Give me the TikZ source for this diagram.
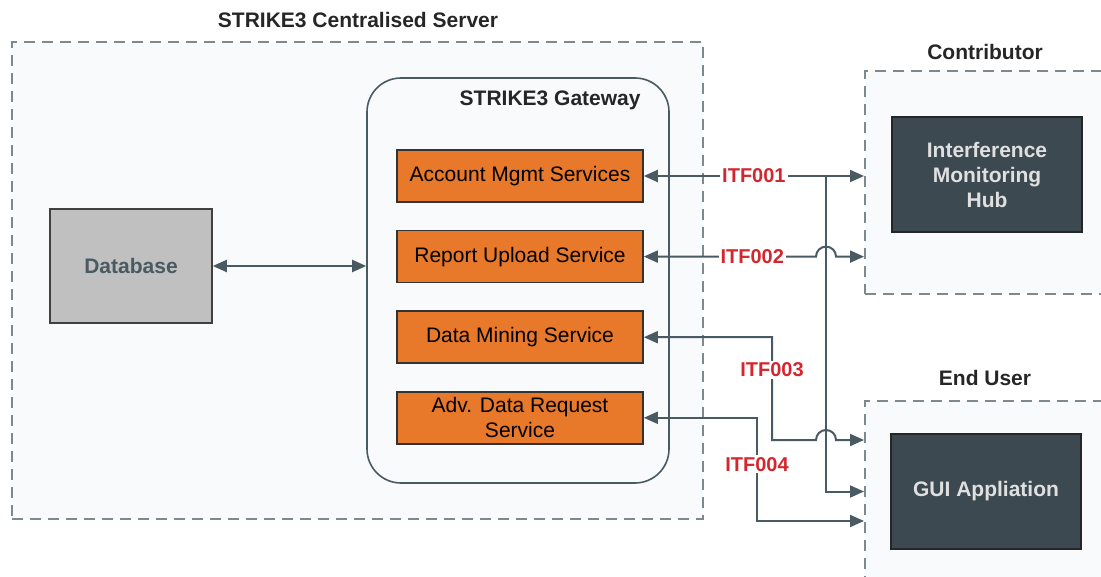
\documentclass[tikz,border=0pt]{standalone}
\usepackage{fontspec}
\setmainfont{Liberation Sans}
\usetikzlibrary{arrows.meta, positioning}

\definecolor{linegray}{HTML}{4A5A62}
\definecolor{dashgray}{HTML}{7D898E}
\definecolor{paneback}{HTML}{F8FAFC}
\definecolor{svcorange}{HTML}{E8782A}
\definecolor{hubdark}{HTML}{3C4950}
\definecolor{dbgray}{HTML}{C0C0C0}
\definecolor{itfred}{HTML}{D4262E}

\begin{document}
\begin{tikzpicture}[
  x=0.5pt, y=-0.5pt,
  font=\fontsize{10.5}{12.5}\selectfont,
  zone/.style={draw=dashgray, line width=1pt, dash pattern=on 5.5pt off 3.5pt,
               fill=paneback, inner sep=0pt},
  gwbox/.style={draw=linegray, line width=0.8pt, rounded corners=17pt,
                fill=paneback, inner sep=0pt},
  svc/.style={draw=black!80, line width=0.8pt, fill=svcorange, align=center,
              minimum width=123pt, minimum height=26pt, inner sep=1pt},
  ext/.style={draw=black!85, line width=0.8pt, fill=hubdark, text=white!88!black,
              font=\fontsize{10.5}{12.5}\selectfont\bfseries, align=center,
              minimum width=95pt, minimum height=57.5pt, inner sep=1pt},
  db/.style={draw=black!75, line width=0.8pt, fill=dbgray, text=linegray,
             font=\fontsize{10.5}{12.5}\selectfont\bfseries,
             minimum width=81pt, minimum height=57pt},
  ttl/.style={font=\fontsize{10.5}{12.5}\selectfont\bfseries, text=black!85,
              inner sep=1pt},
  itf/.style={fill=white, text=itfred, inner sep=1pt,
              font=\fontsize{10}{12}\selectfont\bfseries},
  arr/.style={-{Triangle[length=7pt, width=6pt]}, draw=linegray, line width=1pt},
  dbl/.style={{Triangle[length=7pt, width=6pt]}-{Triangle[length=7pt, width=6pt]},
              draw=linegray, line width=1pt},
  node distance=13.5pt
]
\clip (0,0) rectangle (1101,577);

% zones
\node[zone, minimum width=345.5pt, minimum height=238.5pt] (srv) at (357.5,280.5) {};
\node[ttl] (srvtitle) at (358,20) {STRIKE3 Centralised Server};
\node[zone, minimum width=125pt, minimum height=111.5pt] (contrib) at (990,182.5) {};
\node[ttl] (contribtitle) at (985,52) {Contributor};
\node[zone, minimum width=125pt, minimum height=94.5pt] (eu) at (990,495.5) {};
\node[ttl] (eutitle) at (985,378) {End User};

% gateway
\node[gwbox, minimum width=151pt, minimum height=202.5pt] (gw) at (518,280.5) {};
\node[ttl, anchor=east] (gwtitle) at (643,100) {STRIKE3 Gateway};

\node[svc] (acct) at (520,176) {Account Mgmt Services};
\node[svc, below=of acct] (report) {Report Upload Service};
\node[svc, below=of report] (mining) {Data Mining Service};
\node[svc, below=of mining] (adv) {Adv. Data Request\\Service};

\node[db] (dbase) at (131,266) {Database};
\node[ext] (hub) at (987,174.5) {Interference\\Monitoring\\Hub};
\node[ext] (gui) at (986,491.5) {GUI Appliation};

% links
\coordinate (tap) at (826,176);
\coordinate (k3) at (772,440);
\coordinate (k4) at (757,521);

\draw[dbl] (dbase.east) -- (gw.west |- dbase.east);

\draw[arr] (tap) |- (eu.west |- gui.center);
\draw[dbl] (acct.east) -- node[itf]{ITF001} (acct.east -| contrib.west);
\draw[dbl] (report.east) -- node[itf, pos=0.63]{ITF002} ([xshift=-5pt]report.east -| tap)
  arc[start angle=180, end angle=0, radius=5pt] -- (report.east -| contrib.west);
\draw[dbl] (mining.east) -- (mining.east -| k3) -- node[itf, pos=0.32]{ITF003} (k3)
  -- ([xshift=-5pt]k3 -| tap) arc[start angle=180, end angle=0, radius=5pt]
  -- (k3 -| eu.west);
\draw[dbl] (adv.east) -- (adv.east -| k4) -- node[itf, pos=0.45]{ITF004} (k4)
  -- (k4 -| eu.west);
\end{tikzpicture}
\end{document}
